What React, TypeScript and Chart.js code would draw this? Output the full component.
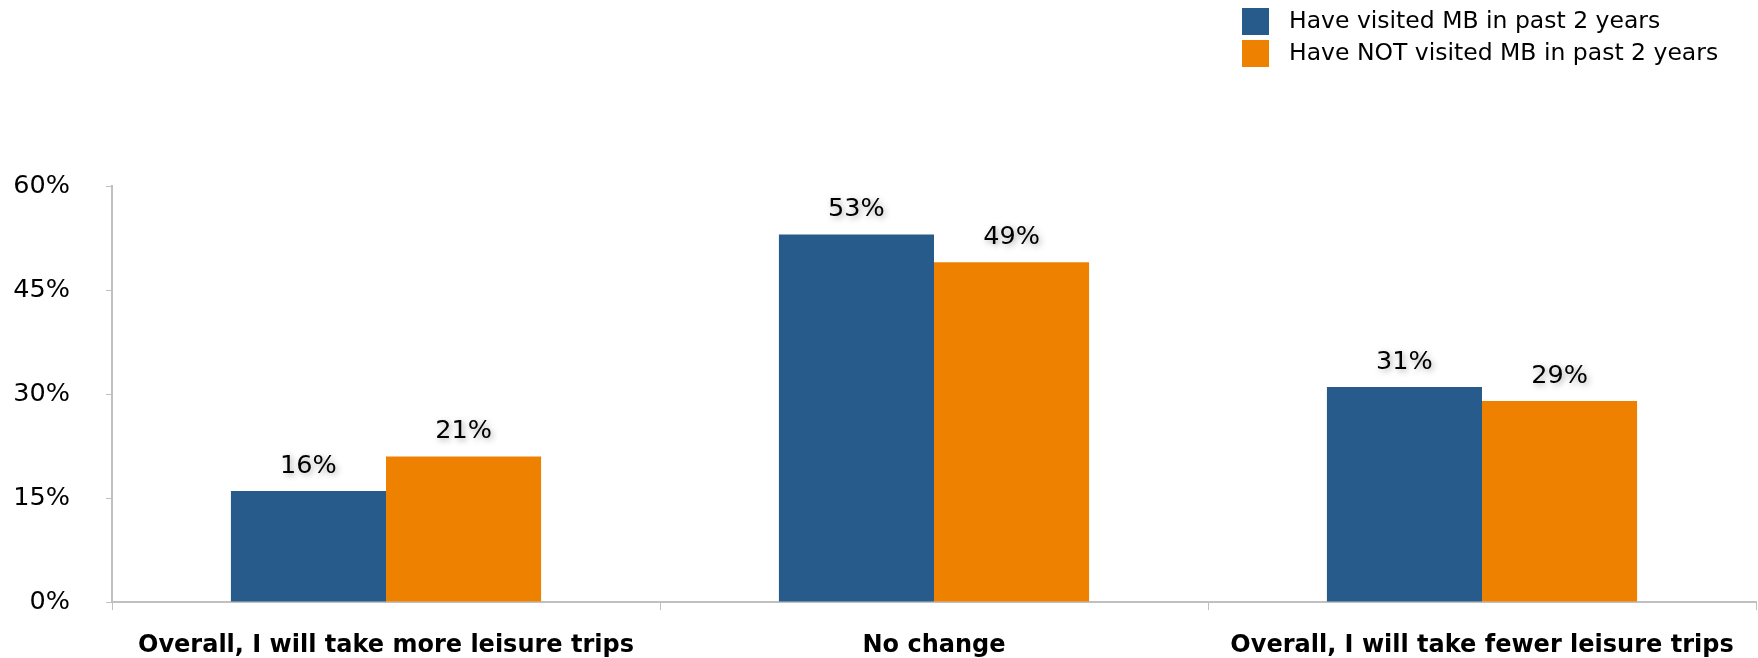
import React, { useEffect, useRef } from "react";
import { Chart, registerables } from "chart.js";

Chart.register(...registerables);

const categories = [
  "Overall, I will take more leisure trips",
  "No change",
  "Overall, I will take fewer leisure trips",
];
const visitedValues = [16, 53, 31];
const notVisitedValues = [21, 49, 29];
const seriesLabels = ["Have visited MB in past 2 years", "Have NOT visited MB in past 2 years"];
const seriesColors = ["#275B8C", "#EE8100"];
const yTicks = [0, 15, 30, 45, 60];

const FONT = "'DejaVu Sans', Verdana, sans-serif";

const legendPlugin = {
  id: "customLegend",
  afterDraw(chart: any) {
    const ctx = chart.ctx;
    ctx.save();
    chart.data.datasets.forEach((ds: any, i: number) => {
      const y = 8 + i * 32;
      ctx.fillStyle = ds.backgroundColor;
      ctx.fillRect(1242, y, 27, 27);
      ctx.fillStyle = "#000";
      ctx.font = `23.5px ${FONT}`;
      ctx.textBaseline = "middle";
      ctx.textAlign = "left";
      ctx.fillText(ds.label, 1289, y + 14);
    });
    ctx.restore();
  },
};

const dataLabelPlugin = {
  id: "dataLabels",
  afterDatasetsDraw(chart: any) {
    const ctx = chart.ctx;
    ctx.save();
    ctx.font = `25.5px ${FONT}`;
    ctx.textAlign = "center";
    ctx.textBaseline = "middle";
    ctx.fillStyle = "#000";
    ctx.shadowColor = "rgba(0,0,0,0.35)";
    ctx.shadowBlur = 6;
    ctx.shadowOffsetX = 2;
    ctx.shadowOffsetY = 2;
    chart.data.datasets.forEach((ds: any, i: number) => {
      const meta = chart.getDatasetMeta(i);
      meta.data.forEach((bar: any, j: number) => {
        ctx.fillText(ds.data[j] + "%", bar.x, bar.y - 25);
      });
    });
    ctx.restore();
  },
};

export default function App() {
  const ref = useRef<HTMLCanvasElement>(null);
  useEffect(() => {
    document.body.style.margin = "0";
    document.body.style.overflow = "hidden";
    const chart = new Chart(ref.current!, {
      type: "bar",
      data: {
        labels: categories,
        datasets: [
          { label: seriesLabels[0], data: visitedValues, backgroundColor: seriesColors[0] },
          { label: seriesLabels[1], data: notVisitedValues, backgroundColor: seriesColors[1] },
        ],
      },
      options: {
        animation: false,
        responsive: false,
        maintainAspectRatio: false,
        layout: { padding: { top: 186, left: 0, right: 2, bottom: 0 } },
        plugins: { legend: { display: false }, tooltip: { enabled: false } },
        datasets: { bar: { categoryPercentage: 0.566, barPercentage: 1.0 } },
        scales: {
          x: {
            grid: { drawOnChartArea: false, tickLength: 8, color: "#c0c0c0", offset: true },
            border: { color: "#c0c0c0", width: 2 },
            ticks: { color: "#000", font: { family: FONT, size: 24, weight: "bold" }, padding: 21, maxRotation: 0, autoSkip: false },
            afterFit: (s: any) => { s.height = 56; },
          },
          y: {
            min: 0,
            max: 60,
            afterBuildTicks: (s: any) => { s.ticks = yTicks.map((v) => ({ value: v })); },
            grid: { drawOnChartArea: false, tickLength: 6, color: "#c0c0c0" },
            border: { color: "#c0c0c0", width: 2 },
            ticks: { color: "#000", font: { family: FONT, size: 25.5 }, padding: 36, callback: (v: any) => v + "%" },
            afterFit: (s: any) => { s.width = 112; },
          },
        },
      },
      plugins: [legendPlugin, dataLabelPlugin],
    });
    return () => chart.destroy();
  }, []);
  return <canvas ref={ref} width={1758} height={658} style={{ display: "block" }} />;
}
